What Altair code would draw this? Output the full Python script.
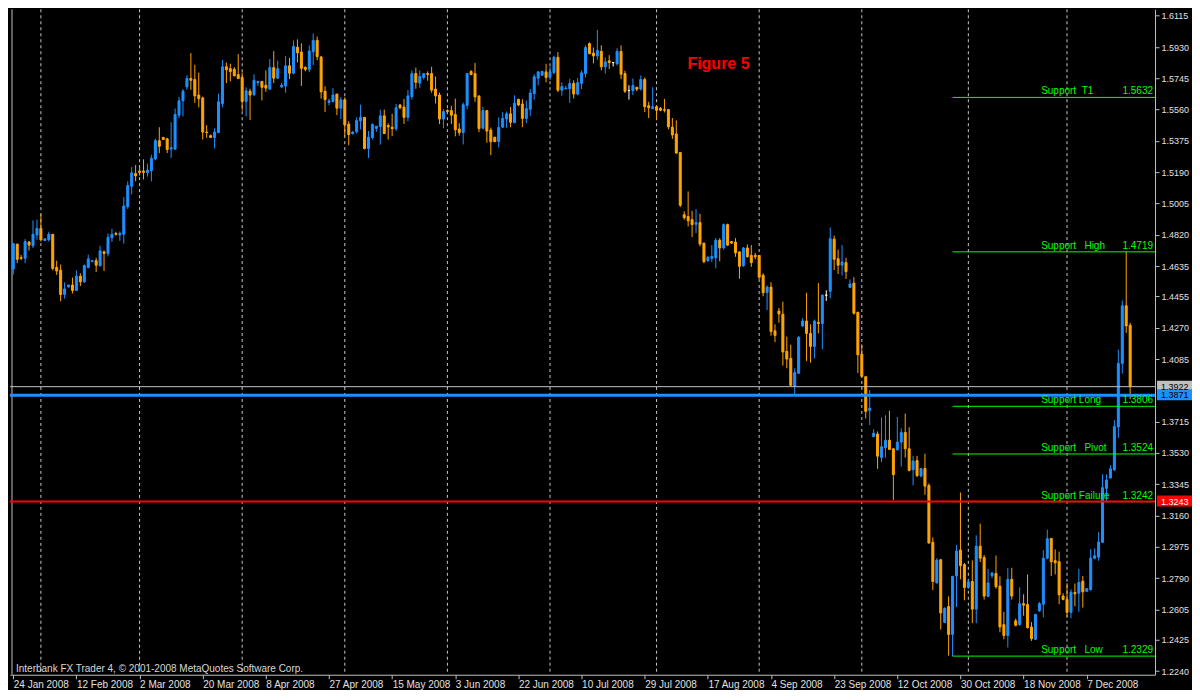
import altair as alt
import pandas as pd

opens = [1.4617,1.4765,1.4684,1.4681,1.4777,1.4755,1.4819,1.4857,1.4786,1.4790,
1.4823,1.4627,1.4610,1.4467,1.4512,1.4523,1.4491,1.4575,1.4542,1.4627,
1.4663,1.4667,1.4636,1.4719,1.4709,1.4802,1.4828,1.4819,1.4823,1.4986,
1.5107,1.5182,1.5197,1.5197,1.5187,1.5199,1.5268,1.5376,1.5395,1.5387,
1.5326,1.5326,1.5527,1.5612,1.5694,1.5744,1.5738,1.5646,1.5629,1.5427,
1.5406,1.5395,1.5424,1.5596,1.5813,1.5802,1.5798,1.5767,1.5750,1.5608,
1.5669,1.5648,1.5719,1.5727,1.5704,1.5681,1.5808,1.5746,1.5694,1.5700,
1.5819,1.5775,1.5929,1.5900,1.5810,1.5798,1.5902,1.5969,1.5871,1.5669,
1.5602,1.5608,1.5652,1.5568,1.5618,1.5474,1.5418,1.5429,1.5493,1.5514,
1.5330,1.5395,1.5449,1.5460,1.5523,1.5466,1.5456,1.5447,1.5587,1.5575,
1.5514,1.5637,1.5773,1.5717,1.5750,1.5773,1.5773,1.5681,1.5646,1.5504,
1.5554,1.5554,1.5531,1.5445,1.5424,1.5585,1.5786,1.5773,1.5641,1.5450,
1.5554,1.5439,1.5397,1.5372,1.5456,1.5504,1.5535,1.5483,1.5621,1.5593,
1.5508,1.5562,1.5654,1.5746,1.5763,1.5783,1.5750,1.5779,1.5869,1.5675,
1.5683,1.5683,1.5715,1.5652,1.5715,1.5773,1.5950,1.5894,1.5877,1.5904,
1.5813,1.5848,1.5838,1.5831,1.5904,1.5773,1.5673,1.5673,1.5692,1.5681,
1.5738,1.5583,1.5566,1.5577,1.5568,1.5560,1.5560,1.5456,1.5416,1.5306,
1.4938,1.4928,1.4909,1.4882,1.4892,1.4771,1.4667,1.4681,1.4684,1.4788,
1.4742,1.4880,1.4780,1.4777,1.4719,1.4638,1.4742,1.4698,1.4698,1.4698,
1.4581,1.4479,1.4511,1.4252,1.4369,1.4350,1.4131,1.4089,1.3924,1.4001,
1.4281,1.4310,1.4237,1.4160,1.4302,1.4295,1.4463,1.4486,1.4794,1.4678,
1.4640,1.4655,1.4509,1.4534,1.4362,1.4114,1.3981,1.3782,1.3626,1.3642,
1.3503,1.3561,1.3605,1.3555,1.3548,1.3594,1.3651,1.3555,1.3431,1.3486,
1.3394,1.3438,1.3338,1.3002,1.2762,1.2899,1.2528,1.2622,1.2457,1.2803,
1.2956,1.2870,1.2735,1.2770,1.2607,1.2979,1.2912,1.2682,1.2805,1.2818,
1.2743,1.2515,1.2451,1.2783,1.2538,1.2515,1.2639,1.2634,1.2501,1.2428,
1.2597,1.2636,1.2908,1.3025,1.2893,1.2887,1.2684,1.2664,1.2588,1.2705,
1.2701,1.2772,1.2712,1.2722,1.2908,1.2914,1.3002,1.3321,1.3382,1.3431,
1.3684,1.4060,1.4400,1.4285]

highs = [1.4771,1.4765,1.4700,1.4794,1.4782,1.4905,1.4909,1.4944,1.4800,1.4838,
1.4823,1.4667,1.4644,1.4538,1.4523,1.4567,1.4610,1.4592,1.4644,1.4702,
1.4671,1.4684,1.4754,1.4727,1.4828,1.4855,1.4838,1.4840,1.5043,1.5136,
1.5220,1.5232,1.5216,1.5266,1.5241,1.5293,1.5387,1.5456,1.5399,1.5393,
1.5485,1.5566,1.5635,1.5681,1.5763,1.5894,1.5825,1.5779,1.5637,1.5468,
1.5412,1.5450,1.5654,1.5854,1.5838,1.5831,1.5811,1.5888,1.5779,1.5692,
1.5683,1.5769,1.5727,1.5727,1.5792,1.5859,1.5906,1.5850,1.5719,1.5877,
1.5865,1.5969,1.5975,1.5952,1.5815,1.5940,1.6009,1.5992,1.5877,1.5698,
1.5625,1.5687,1.5652,1.5635,1.5633,1.5491,1.5433,1.5514,1.5589,1.5514,
1.5433,1.5479,1.5462,1.5560,1.5560,1.5479,1.5535,1.5593,1.5593,1.5623,
1.5675,1.5792,1.5808,1.5792,1.5777,1.5786,1.5813,1.5756,1.5660,1.5562,
1.5562,1.5583,1.5625,1.5479,1.5602,1.5773,1.5792,1.5836,1.5641,1.5577,
1.5554,1.5454,1.5397,1.5514,1.5545,1.5548,1.5575,1.5644,1.5621,1.5621,
1.5614,1.5681,1.5769,1.5786,1.5788,1.5831,1.5813,1.5879,1.5900,1.5721,
1.5700,1.5742,1.5733,1.5746,1.5792,1.5940,1.5957,1.5927,1.6032,1.5940,
1.5869,1.5882,1.5838,1.5923,1.5940,1.5790,1.5704,1.5744,1.5692,1.5762,
1.5750,1.5606,1.5692,1.5585,1.5575,1.5623,1.5560,1.5510,1.5497,1.5306,
1.4959,1.5076,1.4961,1.4972,1.4944,1.4771,1.4696,1.4759,1.4800,1.4800,
1.4886,1.4886,1.4780,1.4800,1.4719,1.4748,1.4763,1.4759,1.4713,1.4698,
1.4592,1.4521,1.4540,1.4291,1.4387,1.4425,1.4218,1.4170,1.4031,1.4221,
1.4327,1.4477,1.4291,1.4319,1.4534,1.4467,1.4492,1.4863,1.4815,1.4732,
1.4759,1.4684,1.4556,1.4569,1.4364,1.4172,1.3981,1.3901,1.3670,1.3657,
1.3740,1.3753,1.3780,1.3555,1.3743,1.3676,1.3763,1.3682,1.3513,1.3513,
1.3442,1.3526,1.3350,1.3031,1.2908,1.2903,1.2618,1.2682,1.2801,1.2985,
1.3296,1.2879,1.2783,1.2895,1.3043,1.3112,1.2927,1.2845,1.2826,1.2924,
1.2801,1.2591,1.2851,1.2851,1.2551,1.2735,1.2695,1.2812,1.2530,1.2576,
1.2649,1.2956,1.3077,1.3025,1.2960,1.2947,1.2701,1.2760,1.2724,1.2758,
1.2845,1.2803,1.2732,1.2962,1.2966,1.3062,1.3404,1.3404,1.3457,1.3724,
1.4141,1.4431,1.4719,1.4300]

lows = [1.4585,1.4652,1.4671,1.4652,1.4727,1.4742,1.4790,1.4780,1.4782,1.4780,
1.4610,1.4583,1.4427,1.4442,1.4508,1.4473,1.4487,1.4517,1.4535,1.4621,
1.4656,1.4600,1.4635,1.4606,1.4692,1.4778,1.4815,1.4784,1.4767,1.4972,
1.5059,1.5136,1.5170,1.5147,1.5164,1.5136,1.5260,1.5303,1.5381,1.5303,
1.5274,1.5324,1.5510,1.5520,1.5677,1.5677,1.5600,1.5573,1.5383,1.5393,
1.5395,1.5331,1.5424,1.5573,1.5717,1.5727,1.5756,1.5740,1.5554,1.5520,
1.5498,1.5639,1.5700,1.5614,1.5665,1.5677,1.5717,1.5740,1.5689,1.5660,
1.5740,1.5769,1.5838,1.5700,1.5786,1.5781,1.5823,1.5852,1.5625,1.5545,
1.5585,1.5602,1.5527,1.5504,1.5401,1.5349,1.5412,1.5420,1.5443,1.5324,
1.5274,1.5383,1.5429,1.5353,1.5416,1.5383,1.5404,1.5433,1.5562,1.5475,
1.5491,1.5619,1.5683,1.5689,1.5738,1.5731,1.5660,1.5596,1.5475,1.5450,
1.5535,1.5475,1.5402,1.5406,1.5354,1.5562,1.5763,1.5606,1.5427,1.5443,
1.5364,1.5291,1.5370,1.5337,1.5450,1.5452,1.5456,1.5479,1.5581,1.5456,
1.5479,1.5523,1.5619,1.5704,1.5760,1.5721,1.5735,1.5769,1.5664,1.5642,
1.5681,1.5600,1.5625,1.5644,1.5681,1.5750,1.5888,1.5833,1.5854,1.5792,
1.5773,1.5800,1.5815,1.5821,1.5740,1.5658,1.5619,1.5646,1.5669,1.5673,
1.5545,1.5510,1.5562,1.5502,1.5550,1.5543,1.5443,1.5387,1.5299,1.4984,
1.4909,1.4869,1.4807,1.4830,1.4752,1.4652,1.4659,1.4659,1.4621,1.4663,
1.4732,1.4753,1.4765,1.4690,1.4560,1.4630,1.4686,1.4630,1.4675,1.4559,
1.4456,1.4375,1.4223,1.4185,1.4300,1.4047,1.4031,1.3926,1.3868,1.3999,
1.4275,1.4074,1.4064,1.4089,1.4237,1.4143,1.4429,1.4444,1.4611,1.4588,
1.4579,1.4559,1.4506,1.4348,1.4003,1.3981,1.3734,1.3695,1.3624,1.3436,
1.3475,1.3503,1.3548,1.3252,1.3546,1.3450,1.3503,1.3421,1.3338,1.3388,
1.3386,1.3283,1.2993,1.2720,1.2758,1.2486,1.2524,1.2332,1.2329,1.2620,
1.2783,1.2659,1.2726,1.2524,1.2524,1.2885,1.2663,1.2678,1.2791,1.2728,
1.2470,1.2428,1.2380,1.2663,1.2505,1.2509,1.2568,1.2492,1.2419,1.2424,
1.2591,1.2559,1.2902,1.2803,1.2812,1.2636,1.2659,1.2559,1.2553,1.2624,
1.2591,1.2616,1.2709,1.2716,1.2902,1.2893,1.2998,1.3244,1.3379,1.3423,
1.3619,1.3999,1.4240,1.3849]

closes = [1.4767,1.4675,1.4681,1.4780,1.4759,1.4823,1.4857,1.4790,1.4796,1.4823,
1.4621,1.4606,1.4467,1.4500,1.4523,1.4491,1.4575,1.4542,1.4638,1.4677,
1.4667,1.4640,1.4725,1.4709,1.4805,1.4823,1.4823,1.4828,1.4990,1.5111,
1.5186,1.5168,1.5189,1.5189,1.5203,1.5272,1.5376,1.5343,1.5383,1.5324,
1.5335,1.5531,1.5612,1.5669,1.5744,1.5733,1.5641,1.5625,1.5427,1.5424,
1.5395,1.5427,1.5606,1.5813,1.5796,1.5785,1.5760,1.5744,1.5608,1.5671,
1.5646,1.5733,1.5727,1.5692,1.5687,1.5808,1.5746,1.5802,1.5704,1.5819,
1.5775,1.5934,1.5896,1.5804,1.5798,1.5906,1.5969,1.5873,1.5665,1.5619,
1.5612,1.5646,1.5568,1.5618,1.5470,1.5412,1.5427,1.5495,1.5514,1.5330,
1.5397,1.5472,1.5462,1.5523,1.5418,1.5458,1.5447,1.5571,1.5571,1.5514,
1.5641,1.5773,1.5721,1.5756,1.5773,1.5767,1.5675,1.5641,1.5504,1.5548,
1.5548,1.5527,1.5441,1.5424,1.5589,1.5773,1.5767,1.5635,1.5447,1.5554,
1.5433,1.5370,1.5370,1.5454,1.5508,1.5535,1.5485,1.5598,1.5587,1.5508,
1.5566,1.5658,1.5754,1.5783,1.5786,1.5750,1.5783,1.5869,1.5675,1.5696,
1.5687,1.5714,1.5652,1.5719,1.5777,1.5927,1.5890,1.5877,1.5909,1.5813,
1.5842,1.5838,1.5838,1.5904,1.5769,1.5669,1.5673,1.5702,1.5681,1.5738,
1.5577,1.5571,1.5577,1.5556,1.5556,1.5556,1.5458,1.5410,1.5303,1.4995,
1.4921,1.4903,1.4880,1.4892,1.4765,1.4661,1.4686,1.4692,1.4788,1.4742,
1.4880,1.4759,1.4771,1.4713,1.4634,1.4742,1.4690,1.4655,1.4690,1.4569,
1.4477,1.4511,1.4248,1.4225,1.4352,1.4127,1.4085,1.3930,1.4005,1.4214,
1.4310,1.4237,1.4160,1.4310,1.4295,1.4463,1.4463,1.4797,1.4675,1.4640,
1.4659,1.4602,1.4529,1.4356,1.4110,1.3983,1.3776,1.3795,1.3647,1.3511,
1.3567,1.3605,1.3551,1.3402,1.3594,1.3651,1.3555,1.3427,1.3482,1.3396,
1.3438,1.3334,1.2998,1.2770,1.2897,1.2584,1.2611,1.2457,1.2801,1.2950,
1.2864,1.2735,1.2768,1.2607,1.2979,1.2908,1.2684,1.2762,1.2820,1.2739,
1.2501,1.2451,1.2783,1.2684,1.2511,1.2639,1.2630,1.2497,1.2432,1.2576,
1.2639,1.2908,1.3023,1.2887,1.2881,1.2691,1.2664,1.2588,1.2707,1.2697,
1.2764,1.2709,1.2728,1.2908,1.2922,1.3004,1.3325,1.3369,1.3436,1.3686,
1.4060,1.4400,1.4281,1.3922]

date_idx = [0, 16, 32, 48, 64, 80, 96, 112, 128, 144, 160, 176, 192, 208, 224, 240, 256, 272]
date_labels = ["24 Jan 2008", "12 Feb 2008", "2 Mar 2008", "20 Mar 2008", "8 Apr 2008",
               "27 Apr 2008", "15 May 2008", "3 Jun 2008", "22 Jun 2008", "10 Jul 2008",
               "29 Jul 2008", "17 Aug 2008", "4 Sep 2008", "23 Sep 2008", "12 Oct 2008",
               "30 Oct 2008", "18 Nov 2008", "7 Dec 2008"]
month_idx = [7, 32, 58, 84, 110, 136, 163, 189, 215, 242, 267]
y_ticks = [1.6115, 1.5930, 1.5745, 1.5560, 1.5375, 1.5190, 1.5005, 1.4820, 1.4635, 1.4455,
           1.4270, 1.4085, 1.3715, 1.3530, 1.3345, 1.3160, 1.2975, 1.2790, 1.2605, 1.2425, 1.2240]

support_names = ["Support  T1", "Support   High", "Support Long", "Support   Pivot",
                 "Support Failure", "Support   Low"]
support_values = [1.5632, 1.4719, 1.3806, 1.3524, 1.3242, 1.2329]
support_start = 238

level_names = ["bid", "blue", "red"]
level_values = [1.3922, 1.3871, 1.3243]
level_colors = ["#C0C0C0", "#1E90FF", "#FF0000"]
level_widths = [1, 3, 2]
level_text_colors = ["#000000", "#000000", "#FFFFFF"]

W, H = 1146, 666
x_dom = [-0.83, 289.3]
y_dom = [1.2219, 1.6153]

n = len(opens)
df = pd.DataFrame({"i": list(range(n)), "o": opens, "h": highs, "l": lows, "c": closes})
df["dir"] = ["up" if c > o else ("down" if c < o else "flat") for o, c in zip(opens, closes)]

cscale = alt.Scale(domain=["up", "down", "flat"], range=["#1E90FF", "#FFA500", "#FFFFFF"])
xs = alt.Scale(domain=x_dom, nice=False, zero=False)
ys = alt.Scale(domain=y_dom, nice=False, zero=False)

label_expr = ""
for v, s in zip(date_idx, date_labels):
    label_expr += "datum.value == " + str(v) + " ? '" + s + "' : "
label_expr += "''"

xaxis = alt.Axis(values=date_idx, labelExpr=label_expr,
                 title=None, grid=False, tickSize=4, tickColor="#C0C0C0", domainColor="#C0C0C0",
                 labelColor="#E0E0E0", labelAlign="left", labelBaseline="top",
                 labelFont="Liberation Sans", labelFontSize=10, labelPadding=1,
                 labelOverlap=False, labelFlush=False)
yaxis = alt.Axis(orient="right", values=y_ticks, format=".4f", title=None, grid=False,
                 tickSize=4, tickColor="#C0C0C0", domainColor="#C0C0C0", labelColor="#E0E0E0",
                 labelFont="Liberation Sans", labelFontSize=9, labelPadding=2,
                 labelOverlap=False, labelFlush=False)


def X(field):
    return alt.X(field, type="quantitative", scale=xs, axis=xaxis)


def Y(field):
    return alt.Y(field, type="quantitative", scale=ys, axis=yaxis)


base = alt.Chart(df)

wicks = base.mark_rule(strokeWidth=1).encode(
    x=X("i"), y=Y("l"), y2="h:Q",
    color=alt.Color("dir:N", scale=cscale, legend=None),
)
bodies = base.mark_rect(xOffset=-1, x2Offset=1, strokeWidth=1).encode(
    x=X("i"), x2="i:Q", y=Y("o"), y2="c:Q",
    color=alt.Color("dir:N", scale=cscale, legend=None),
    stroke=alt.Stroke("dir:N", scale=cscale, legend=None),
)

grid = alt.Chart(pd.DataFrame({"m": month_idx})).mark_rule(
    color="#C8C8C8", strokeDash=[3, 3], strokeWidth=1).encode(x=X("m"))

left_line = alt.Chart(pd.DataFrame({"a": [0]})).mark_rule(color="#C0C0C0", strokeWidth=1).encode(
    x=alt.value(2), y=alt.value(0), y2=alt.value(H))

sup = pd.DataFrame({"name": [s.replace(" ", "\u00a0") for s in support_names],
                    "value": support_values, "start": [support_start] * len(support_values)})
sup_lines = alt.Chart(sup).mark_rule(color="#00FF00", strokeWidth=1).encode(
    x=X("start"), x2=alt.value(W), y=Y("value"))
name_x = round(W * 1045 / 1160.7)
sup_names = alt.Chart(sup).mark_text(align="left", baseline="bottom", dy=-1, color="#00FF00",
                                     font="Liberation Sans", fontSize=10).encode(
    x=alt.value(name_x), y=Y("value"), text="name:N")
sup_vals = alt.Chart(sup).mark_text(align="right", baseline="bottom", dy=-1, color="#00FF00",
                                    font="Liberation Sans", fontSize=10).encode(
    x=alt.value(W - 2), y=Y("value"), text=alt.Text("value:Q", format=".4f"))

lev = pd.DataFrame({"name": level_names, "value": level_values, "col": level_colors,
                    "w": level_widths, "tc": level_text_colors})
lev_lines = alt.Chart(lev).mark_rule().encode(
    x=alt.value(0), x2=alt.value(W), y=Y("value"),
    color=alt.Color("col:N", scale=None), strokeWidth=alt.StrokeWidth("w:Q", scale=None))
lev_boxes = alt.Chart(lev).mark_rect(yOffset=-6, y2Offset=5).encode(
    x=alt.value(W + 2), x2=alt.value(W + 37), y=Y("value"), y2="value:Q",
    color=alt.Color("col:N", scale=None))
lev_text = alt.Chart(lev).mark_text(align="left", baseline="middle", font="Liberation Sans",
                                    fontSize=9).encode(
    x=alt.value(W + 6), y=Y("value"),
    text=alt.Text("value:Q", format=".4f"), color=alt.Color("tc:N", scale=None))

fig = alt.Chart(pd.DataFrame({"t": ["Figure 5"]})).mark_text(
    align="left", baseline="alphabetic", color="#FF0000", font="Liberation Sans",
    fontSize=16, fontWeight="bold").encode(
    x=alt.value(round(687 * W / 1160.7)), y=alt.value(60), text="t:N")

copyright_txt = alt.Chart(pd.DataFrame({"t": ["Interbank FX Trader 4, \u00a9 2001-2008 MetaQuotes Software Corp."]})).mark_text(
    align="left", baseline="alphabetic", color="#D8D8D8", font="Liberation Sans", fontSize=10).encode(
    x=alt.value(6), y=alt.value(H - 3), text="t:N")

chart = alt.layer(
    grid, left_line, wicks, bodies, sup_lines, lev_lines, sup_names, sup_vals,
    lev_boxes, lev_text, fig, copyright_txt
).properties(width=W, height=H, padding=0, background="#000000").configure_view(
    stroke=None, fill="#000000")

chart.save("out.html", embed_options={"renderer": "svg", "actions": False})
